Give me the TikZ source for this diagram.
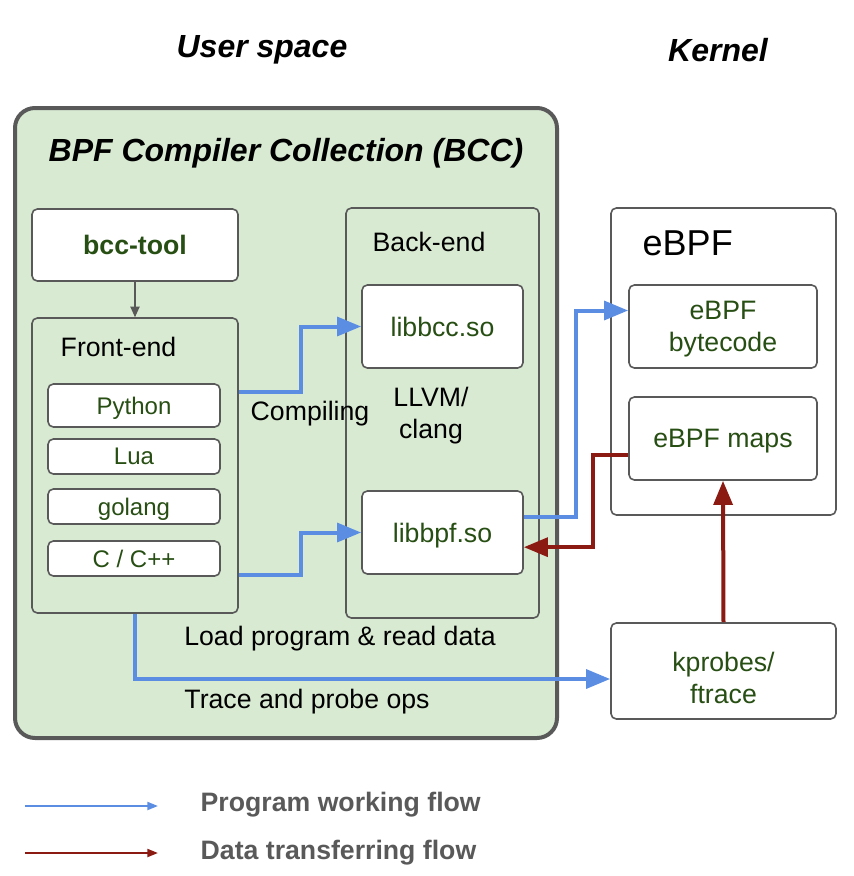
\documentclass[tikz,border=0pt]{standalone}
\usepackage{fontspec}
\setmainfont{Liberation Sans}
\usetikzlibrary{arrows.meta}

\definecolor{bccgreen}{HTML}{D9EAD3}
\definecolor{txtgreen}{HTML}{274E13}
\definecolor{flowblue}{HTML}{5B8DE3}
\definecolor{datared}{HTML}{8B1A12}
\definecolor{boxgray}{HTML}{595959}

\begin{document}
\begin{tikzpicture}[x=0.75pt,y=-0.75pt,
    box/.style={draw=boxgray,line width=1.2pt,rounded corners=4pt,fill=white,inner sep=0pt,text depth=0pt},
    group/.style={box,fill=bccgreen},
    flow/.style={draw=flowblue,line width=3pt,-{Triangle[length=18pt,width=14pt]}},
    data/.style={draw=datared,line width=3pt,-{Triangle[length=18pt,width=14pt]}},
    big/.style={font=\fontsize{24}{28}\selectfont\bfseries\itshape},
    mid/.style={font=\fontsize{20}{24}\selectfont},
    small/.style={font=\fontsize{18}{21}\selectfont}]

      \useasboundingbox (0,0) rectangle (854,876);

      % titles
      \node[big] (user)   at (262,50)  {User space};
      \node[big] (kernel) at (718,50)  {Kernel};

      % BCC side
      \node[group,draw=boxgray,line width=3pt,rounded corners=15pt,
            minimum width=406.5pt,minimum height=472.5pt] (bcc) at (286,423) {};
      \node[big] (bcctitle) at (286,153) {BPF Compiler Collection (BCC)};

      \node[box,minimum width=154.5pt,minimum height=54pt,mid,text=txtgreen,
            font=\fontsize{20}{24}\selectfont\bfseries] (tool) at (135,245) {bcc-tool};
      \node[group,minimum width=154.5pt,minimum height=221.25pt] (front) at (135,465.5) {};
      \node[mid,anchor=west] (frontlbl) at (56,347) {Front-end};

      \begin{scope}[every node/.style={box,small,text=txtgreen,minimum width=129pt,minimum height=26.25pt}]
        \node[minimum height=32.25pt] (python) at (134,405.5) {Python};
        \node (lua)    at (134,456.5) {Lua};
        \node (golang) at (134,506.5) {golang};
        \node (cpp)    at (134,558.5) {C / C++};
      \end{scope}

      \node[group,minimum width=144.75pt,minimum height=307.5pt] (back) at (442.5,413) {};
      \node[mid,anchor=west] (backlbl) at (368,242) {Back-end};

      \begin{scope}[every node/.style={box,mid,text=txtgreen,minimum width=120.75pt,minimum height=62.25pt}]
        \node (libbcc) at (442.5,326.5) {libbcc.so};
        \node (libbpf) at (442.5,532.5) {libbpf.so};
      \end{scope}

      \node[mid,align=center] (llvm) at (431,416) {LLVM/\\clang};
      \node[mid] (compiling) at (310,414) {Compiling};
      \node[mid] (load)  at (340,639) {Load program \& read data};
      \node[mid] (trace) at (307,702) {Trace and probe ops};

      % kernel side
      \node[box,minimum width=168.75pt,minimum height=230.25pt] (ebpf) at (723.5,361.5) {};
      \node[anchor=west,font=\fontsize{27}{32}\selectfont] (ebpflbl) at (638,243) {eBPF};

      \begin{scope}[every node/.style={box,mid,text=txtgreen,align=center,minimum width=141pt,minimum height=62.25pt}]
        \node (bytecode) at (723,326.5) {eBPF\\bytecode};
        \node (maps)     at (723,438.5) {eBPF maps};
      \end{scope}
      \node[box,mid,text=txtgreen,align=center,text height=49pt,
            minimum width=168.75pt,minimum height=72pt] (kprobes) at (723.5,671) {kprobes/\\ftrace};

      % connectors
      \draw[draw=boxgray,line width=1pt,-{Triangle[length=8pt,width=7pt]}] (tool) -- (front);
      \draw[flow] ([yshift=55pt]front.east) -- ++(62,0) |- (libbcc.west);
      \draw[flow] ([yshift=-82pt]front.east) -- ++(62,0) |- (libbpf.west);
      \draw[flow] ([yshift=12pt]libbpf.east) -- ++(52,0) |- ([yshift=12pt]bytecode.west);
      \draw[flow] (front.south) |- ([yshift=-6pt]kprobes.west);
      \draw[data] ([yshift=-12pt]maps.west) -- ++(-35,0) |- ([yshift=-11pt]libbpf.east);
      \draw[data] (kprobes.north) -- (maps.south);

      % legend
      \coordinate (flowa) at (25,806);
      \coordinate (flowb) at (158,806);
      \coordinate (dataa) at (25,853);
      \coordinate (datab) at (158,853);
      \draw[draw=flowblue,line width=1.5pt,-{Triangle[length=8pt,width=6pt]}] (flowa) -- (flowb);
      \draw[draw=datared,line width=1.5pt,-{Triangle[length=8pt,width=6pt]}] (dataa) -- (datab);
      \node[anchor=west,text=boxgray,font=\fontsize{20}{24}\selectfont\bfseries] (flowlbl) at (196,805) {Program working flow};
      \node[anchor=west,text=boxgray,font=\fontsize{20}{24}\selectfont\bfseries] (datalbl) at (196,853) {Data transferring flow};

    \end{tikzpicture}
\end{document}
